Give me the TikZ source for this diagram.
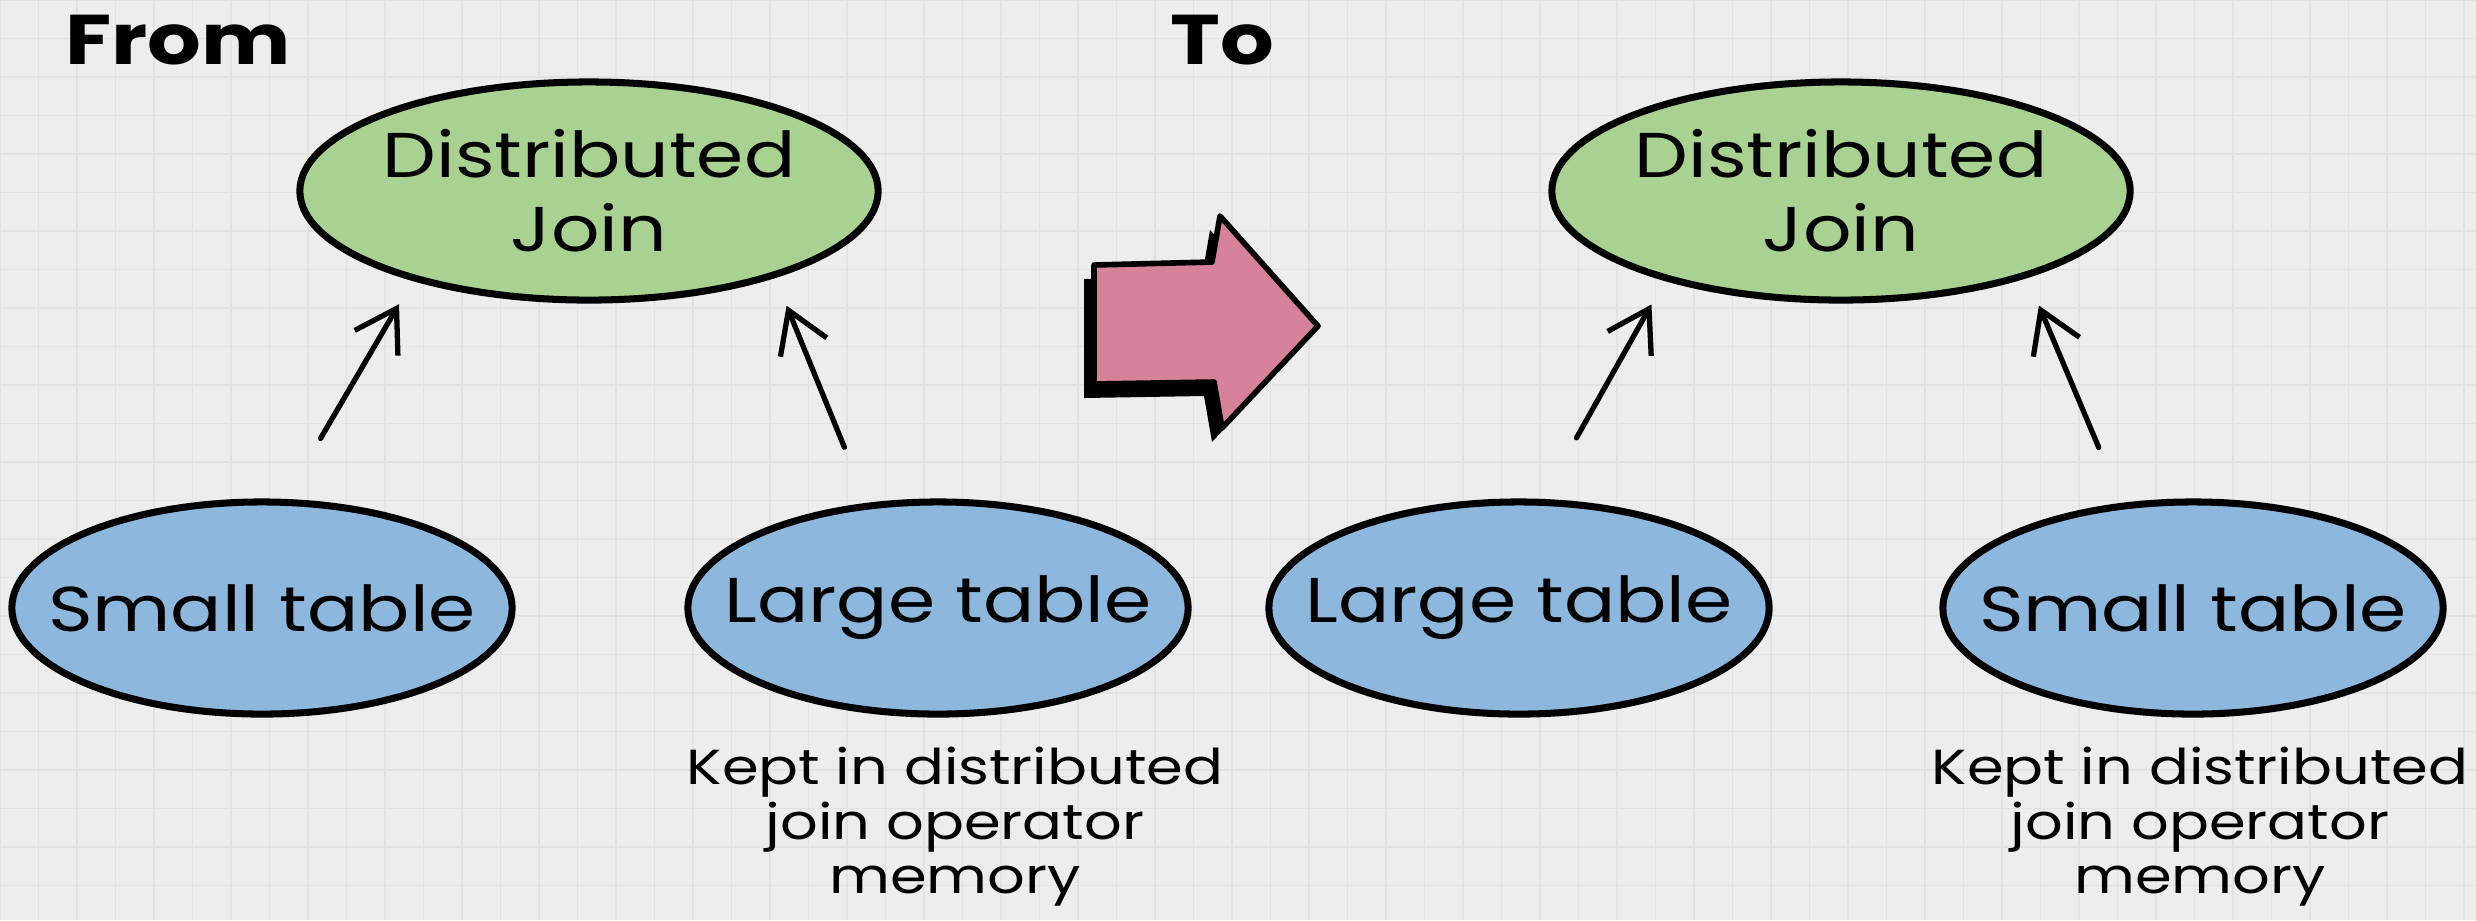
\documentclass[tikz,border=0pt]{standalone}
\usepackage{fontspec}
\setmainfont{Poppins}[FakeStretch=1.2]
\usetikzlibrary{shapes.geometric,arrows.meta}
\definecolor{bg}{RGB}{237,237,237}
\definecolor{gridc}{RGB}{226,226,226}
\definecolor{greenf}{RGB}{169,210,146}
\definecolor{bluef}{RGB}{142,183,222}
\definecolor{pinkf}{RGB}{214,130,153}
\tikzset{
  ovalbase/.style={ellipse, draw, line width=2pt, inner xsep=-0.5cm, inner ysep=0pt},
  joinbox/.style={ovalbase, fill=greenf, minimum width=5.78cm, minimum height=2.18cm, align=center, font=\fontsize{18}{21}\selectfont},
  tblbox/.style={ovalbase, fill=bluef, minimum width=5cm, minimum height=2.12cm, font=\fontsize{18}{22}\selectfont},
  flow/.style={line width=1.5pt, -{Straight Barb[length=4mm,width=5mm]}, line cap=round},
  notetext/.style={align=center, font=\fontsize{14}{15.5}\selectfont},
  titletext/.style={font=\bfseries\fontsize{20}{24}\selectfont},
  gridline/.style={draw=gridc, line width=0.5pt},
  bigarrow/.style={fill=pinkf, draw=black, line width=1.6pt, line join=round}
}
\begin{document}
\begin{tikzpicture}[x=0.01cm, y=-0.01cm]
\useasboundingbox (0,0) rectangle (2476,920);
\fill[bg] (0,0) rectangle (2476,920);
\foreach \i in {0,...,64} \draw[gridline] (\i*38.5,0) -- (\i*38.5,920);
\foreach \j in {0,...,24} \draw[gridline] (0,\j*38.5) -- (2476,\j*38.5);

\node[titletext] (from) at (178,40) {From};
\node[titletext] (to) at (1222,40) {To};

\node[joinbox] (dj1) at (589,191) {Distributed\\Join};
\node[joinbox] (dj2) at (1841,191) {Distributed\\Join};
\node[tblbox] (s1) at (262,608) {Small table};
\node[tblbox] (l1) at (938,608) {Large table};
\node[tblbox] (l2) at (1519,608) {Large table};
\node[tblbox] (s2) at (2193,608) {Small table};

\draw[flow, shorten <=0.7cm, shorten >=0.27cm] (s1.78) -- (dj1.207);
\draw[flow, shorten <=0.6cm, shorten >=0.3cm] (l1.124) -- (dj1.335);
\draw[flow, shorten <=0.7cm, shorten >=0.27cm] (l2.78) -- (dj2.207);
\draw[flow, shorten <=0.6cm, shorten >=0.3cm] (s2.124) -- (dj2.335);

\node[notetext] (n1) at (955,827) {Kept in distributed\\join operator\\memory};
\node[notetext] (n2) at (2200,827) {Kept in distributed\\join operator\\memory};

\fill[black, shift={(-10,14)}] (1094,265) -- (1212,262) -- (1220,216) -- (1318,326) -- (1222,428) -- (1214,382) -- (1094,384) -- cycle;
\filldraw[bigarrow] (1094,265) -- (1212,262) -- (1220,216) -- (1318,326) -- (1222,428) -- (1214,382) -- (1094,384) -- cycle;
\end{tikzpicture}
\end{document}
